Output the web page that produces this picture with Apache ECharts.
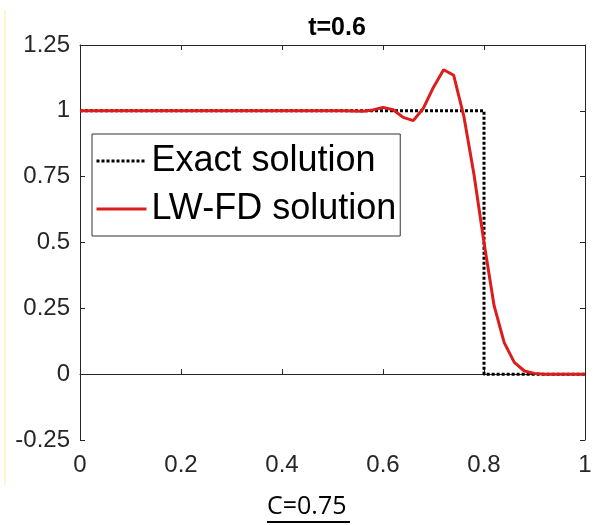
<!DOCTYPE html>
<html>
<head>
<meta charset="utf-8">
<script src="https://cdn.jsdelivr.net/npm/echarts@6/dist/echarts.min.js"></script>
<style>
    html, body { margin: 0; padding: 0; background: #ffffff; }
    #chart { width: 606px; height: 525px; }
</style>
</head>
<body>
<div id="chart"></div>
<script>
// ---- data
let exactX = [0, 0.8, 0.8, 1];
let exactY = [1, 1, 0, 0];

let lwX = [0, 0.1, 0.2, 0.3, 0.4, 0.5, 0.52, 0.54, 0.56, 0.58, 0.6, 0.62, 0.64, 0.66, 0.68, 0.7,
    0.72, 0.74, 0.76, 0.78, 0.8, 0.82, 0.84, 0.86, 0.88, 0.9, 0.92, 0.94, 1];
let lwY = [1, 1, 1, 1, 1, 1, 1, 0.999, 0.998, 1.003, 1.013, 1.004, 0.975, 0.963, 1.01, 1.09,
    1.156, 1.135, 0.98, 0.76, 0.5, 0.26, 0.12, 0.045, 0.012, 0.003, 0, 0, 0];

let xTicks = [0, 0.2, 0.4, 0.6, 0.8, 1];
let yTicks = [-0.25, 0, 0.25, 0.5, 0.75, 1, 1.25];

function pairs(xs, ys) {
    return xs.map(function (x, i) { return [x, ys[i]]; });
}

var axisColor = '#262626';
var labelFont = 'Liberation Sans, Arial, sans-serif';

var chart = echarts.init(document.getElementById('chart'));
var option = {
    backgroundColor: '#ffffff',
    animation: false,
    title: {
        text: 't=0.6',
        left: 332,
        textAlign: 'center',
        top: 11,
        textStyle: {
            fontFamily: labelFont,
            fontSize: 25,
            fontWeight: 'bold',
            color: '#000000'
        }
    },
    legend: {
        orient: 'vertical',
        left: 92,
        top: 134,
        padding: [4, 4, 4, 3],
        itemWidth: 50,
        itemHeight: 2,
        itemGap: 2,
        itemStyle: { opacity: 0 },
        lineStyle: { width: 3 },
        backgroundColor: '#ffffff',
        borderColor: '#333333',
        borderWidth: 1,
        borderRadius: 0,
        textStyle: {
            fontFamily: labelFont,
            fontSize: 36,
            lineHeight: 46,
            color: '#000000'
        },
        data: ['Exact solution', 'LW-FD solution']
    },
    grid: {
        left: 80,
        right: 21,
        top: 45,
        bottom: 85
    },
    xAxis: [{
        type: 'value',
        min: xTicks[0],
        max: xTicks[xTicks.length - 1],
        interval: 0.2,
        axisLine: { show: true, lineStyle: { color: axisColor, width: 1 } },
        axisTick: { show: true, inside: true, length: 5, lineStyle: { color: axisColor } },
        axisLabel: {
            margin: 13,
            fontFamily: labelFont,
            fontSize: 24,
            color: '#262626'
        },
        splitLine: { show: false }
    }, {
        type: 'value',
        position: 'top',
        min: xTicks[0],
        max: xTicks[xTicks.length - 1],
        interval: 0.2,
        axisLine: { show: true, onZero: false, lineStyle: { color: axisColor, width: 1 } },
        axisTick: { show: true, inside: true, length: 5, lineStyle: { color: axisColor } },
        axisLabel: { show: false },
        splitLine: { show: false }
    }],
    yAxis: [{
        type: 'value',
        min: yTicks[0],
        max: yTicks[yTicks.length - 1],
        interval: 0.25,
        axisLine: { show: true, onZero: false, lineStyle: { color: axisColor, width: 1 } },
        axisTick: { show: true, inside: true, length: 5, lineStyle: { color: axisColor } },
        axisLabel: {
            margin: 10,
            fontFamily: labelFont,
            fontSize: 24,
            color: '#262626'
        },
        splitLine: { show: false }
    }, {
        type: 'value',
        position: 'right',
        min: yTicks[0],
        max: yTicks[yTicks.length - 1],
        interval: 0.25,
        axisLine: { show: true, onZero: false, lineStyle: { color: axisColor, width: 1 } },
        axisTick: { show: true, inside: true, length: 5, lineStyle: { color: axisColor } },
        axisLabel: { show: false },
        splitLine: { show: false }
    }],
    series: [{
        name: 'Exact solution',
        type: 'line',
        symbol: 'none',
        data: pairs(exactX, exactY),
        lineStyle: {
            color: '#000000',
            width: 3,
            type: [3, 2],
            cap: 'butt'
        },
        itemStyle: { color: '#000000' },
        z: 2
    }, {
        name: 'LW-FD solution',
        type: 'line',
        symbol: 'none',
        data: pairs(lwX, lwY),
        lineStyle: {
            color: '#dd1c1c',
            width: 3
        },
        itemStyle: { color: '#dd1c1c' },
        z: 3
    }],
    graphic: [{
        // pale yellow edge of the scanned page
        type: 'rect',
        shape: { x: 4, y: 10, width: 2, height: 475 },
        style: { fill: '#fdf6c8' },
        silent: true
    }, {
        type: 'text',
        left: 267,
        top: 494,
        style: {
            text: 'C=0.75',
            font: '25px "Open Sans", sans-serif',
            fill: '#000000'
        }
    }, {
        type: 'rect',
        shape: { x: 267, y: 521, width: 83, height: 2 },
        style: { fill: '#000000' }
    }]
};
chart.setOption(option);
</script>
</body>
</html>
